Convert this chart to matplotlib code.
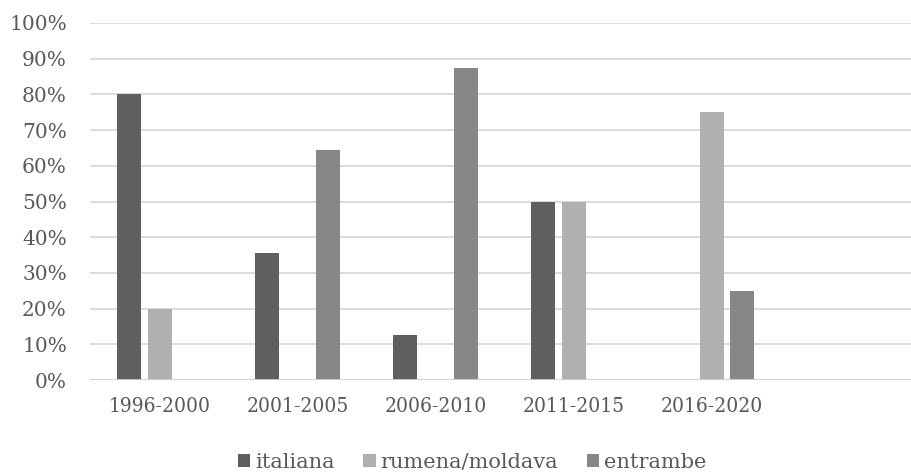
import numpy as np
import matplotlib.pyplot as plt
from matplotlib.ticker import PercentFormatter

periods = ['1996-2000', '2001-2005', '2006-2010', '2011-2015', '2016-2020']
italiana = [80.0, 35.7, 12.5, 50.0, 0.0]
rumena = [20.0, 0.0, 0.0, 50.0, 75.0]
entrambe = [0.0, 64.3, 87.5, 0.0, 25.0]
series_names = ['italiana', 'rumena/moldava', 'entrambe']
colors = ['#5f5f5f', '#b0b0b0', '#878787']
text_col = '#595959'

plt.rcParams['font.family'] = ['DejaVu Serif']
plt.rcParams['font.size'] = 14.5

fig = plt.figure(figsize=(9.12, 4.74), dpi=100)
ax = fig.add_axes([90.5 / 912, 94 / 474, (912 - 90.5) / 912, 357 / 474])

x = np.arange(len(periods))
step = 0.221
w = 0.174
for i, (vals, name) in enumerate(zip([italiana, rumena, entrambe], series_names)):
    ax.bar(x + (i - 1) * step, vals, width=w, color=colors[i], label=name, zorder=3)

ax.set_ylim(0, 100)
ax.set_xlim(-0.5, 5.45)
ax.set_yticks(np.arange(0, 101, 10))
ax.yaxis.set_major_formatter(PercentFormatter(decimals=0))
ax.set_xticks(x)
ax.set_xticklabels(periods, fontsize=15, fontstretch='condensed')
ax.grid(axis='y', color='#d9d9d9', linewidth=1.3, zorder=0)
ax.axhline(0, color='#d0d0d0', linewidth=1.3, zorder=4)
for s in ax.spines.values():
    s.set_visible(False)
ax.tick_params(axis='both', length=0, colors=text_col)
ax.tick_params(axis='y', pad=17)
ax.tick_params(axis='x', pad=12)

fig.legend(loc='center', bbox_to_anchor=(472 / 912, 1 - 462 / 474), ncol=3,
           frameon=False, fontsize=15, handlelength=0.58, handleheight=0.58,
           handletextpad=0.22, columnspacing=1.4, labelcolor=text_col)

fig.savefig('out.png', dpi=100)
